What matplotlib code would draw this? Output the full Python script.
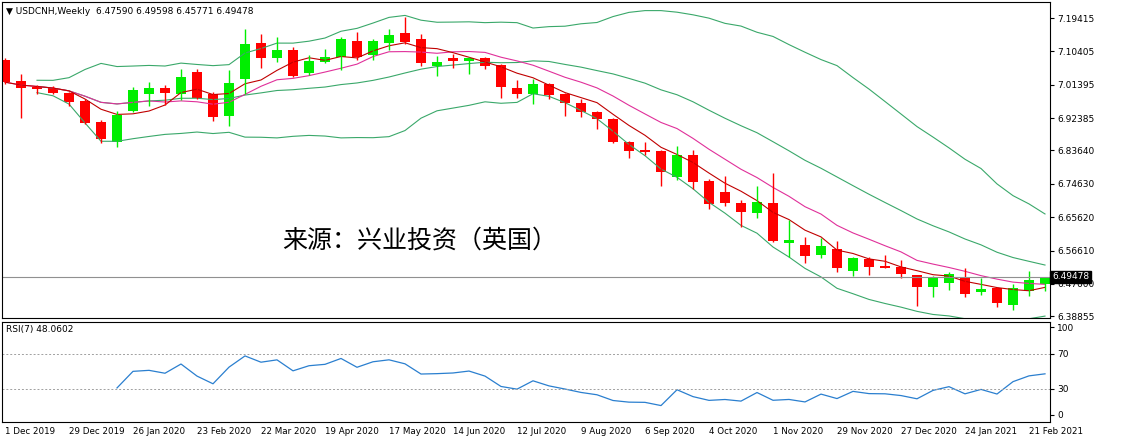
import numpy as np
import pandas as pd
import matplotlib
matplotlib.use("Agg")
import matplotlib.pyplot as plt

plt.rcParams['font.family'] = ['DejaVu Sans', 'Noto Sans CJK SC']

opens = [7.081,7.024,7.008,7.005,6.992,6.970,6.913,6.859,6.943,6.989,7.005,6.989,7.048,6.989,6.930,7.029,7.127,7.086,7.108,7.046,
         7.075,7.089,7.132,7.094,7.127,7.154,7.138,7.065,7.086,7.078,7.086,7.067,7.005,6.989,7.016,6.989,6.965,6.940,6.921,6.859,
         6.838,6.835,6.765,6.824,6.754,6.724,6.695,6.668,6.695,6.587,6.581,6.554,6.570,6.511,6.543,6.525,6.522,6.500,6.468,6.479,
         6.495,6.454,6.465,6.419,6.457,6.47590]
highs = [7.086,7.043,7.013,7.011,6.994,6.975,6.919,6.943,7.008,7.021,7.013,7.056,7.056,6.994,7.054,7.164,7.151,7.143,7.116,7.094,
         7.110,7.143,7.156,7.138,7.164,7.197,7.151,7.092,7.097,7.089,7.089,7.070,7.027,7.029,7.019,6.992,6.975,6.943,6.924,6.862,
         6.859,6.838,6.849,6.838,6.759,6.768,6.703,6.741,6.776,6.649,6.603,6.600,6.592,6.549,6.549,6.554,6.541,6.500,6.498,6.508,
         6.519,6.492,6.468,6.476,6.511,6.49598]
lows = [7.016,6.924,6.989,6.989,6.957,6.908,6.857,6.846,6.940,6.957,6.959,6.973,6.975,6.916,6.903,6.989,7.059,7.075,7.035,7.040,
        7.073,7.054,7.081,7.081,7.108,7.124,7.065,7.038,7.059,7.043,7.056,6.978,6.978,6.962,6.975,6.930,6.927,6.894,6.857,6.816,
        6.824,6.741,6.757,6.732,6.678,6.686,6.630,6.654,6.589,6.549,6.533,6.546,6.508,6.498,6.500,6.519,6.492,6.417,6.441,6.460,
        6.441,6.446,6.414,6.406,6.444,6.45771]
closes = [7.021,7.005,7.002,6.992,6.967,6.911,6.867,6.932,7.000,7.005,6.992,7.035,6.978,6.927,7.019,7.124,7.086,7.108,7.038,7.078,
          7.089,7.138,7.089,7.132,7.148,7.129,7.073,7.075,7.078,7.086,7.065,7.008,6.989,7.016,6.986,6.965,6.940,6.921,6.859,6.835,
          6.832,6.778,6.824,6.751,6.692,6.695,6.670,6.697,6.592,6.595,6.552,6.579,6.519,6.546,6.522,6.520,6.503,6.468,6.492,6.503,
          6.449,6.462,6.425,6.465,6.487,6.49478]
date_labels = ["1 Dec 2019","29 Dec 2019","26 Jan 2020","23 Feb 2020","22 Mar 2020","19 Apr 2020","17 May 2020",
               "14 Jun 2020","12 Jul 2020","9 Aug 2020","6 Sep 2020","4 Oct 2020","1 Nov 2020","29 Nov 2020",
               "27 Dec 2020","24 Jan 2021","21 Feb 2021"]
price_ticks = [7.19415,7.10405,7.01395,6.92385,6.83640,6.74630,6.65620,6.56610,6.47600,6.38855]
rsi_ticks = [100,70,30,0]

n = len(closes)
x = np.arange(n)
c = pd.Series(closes)
ma_fast = c.rolling(5, min_periods=1).mean()
ma_slow = c.rolling(10, min_periods=1).mean()
mid = c.rolling(20, min_periods=3).mean()
sd = c.rolling(20, min_periods=3).std(ddof=0)
up, lo = mid + 2*sd, mid - 2*sd
d = c.diff()
g = d.clip(lower=0).ewm(alpha=1/7, adjust=False).mean()
l = (-d.clip(upper=0)).ewm(alpha=1/7, adjust=False).mean()
rsi = 100 - 100/(1 + g/l)
rsi[:7] = np.nan

W, H = 1137, 446
fig = plt.figure(figsize=(W/100, H/100), dpi=100)
ax = fig.add_axes([2/W, 1-318/H, 1048/W, 316/H])
ax2 = fig.add_axes([2/W, 1-422/H, 1048/W, 100/H])
sp = 16.0
xl = (-(5-2)/sp, (1050-5)/sp)
for a in (ax, ax2):
    a.set_xlim(*xl)
    a.set_xticks([])
    a.yaxis.tick_right()
    a.tick_params(axis='y', labelsize=6.5, length=3, pad=2)
    for s in a.spines.values():
        s.set_linewidth(0.8)

ax.set_ylim(6.384, 7.2374)
ax.set_yticks(price_ticks)
ax.set_yticklabels([f"{t:.5f}" for t in price_ticks])

band = '#3aa86a'
ax.plot(x, up, color=band, lw=0.8)
ax.plot(x, mid, color=band, lw=0.8)
ax.plot(x, lo, color=band, lw=0.8)
ax.plot(x, ma_slow, color='#e0309a', lw=0.8)
ax.plot(x, ma_fast, color='#c00000', lw=0.8)

for i in range(n):
    o, h, lw_, cl = opens[i], highs[i], lows[i], closes[i]
    col = '#00ee00' if cl >= o else '#ff0000'
    ax.vlines(i, lw_, h, color=col, lw=1)
    ax.bar(i, max(abs(cl-o), 0.0012), bottom=min(o, cl), width=0.62, color=col, lw=0)

ax.axhline(closes[-1], color='#909090', lw=0.8)
ax.text(1.002, closes[-1], f"{closes[-1]:.5f}", transform=ax.get_yaxis_transform(), va='center', ha='left',
        fontsize=6.5, color='white', bbox=dict(facecolor='black', edgecolor='black', pad=1.2))
ax.text(0.004, 0.985, "▼ USDCNH,Weekly  6.47590 6.49598 6.45771 6.49478", transform=ax.transAxes,
        fontsize=6.5, va='top', ha='left')
ax.text(280/1048, 0.245, "来源：兴业投资（英国）", transform=ax.transAxes, fontsize=18,
        va='center', ha='left', family=['Noto Sans CJK SC', 'DejaVu Sans'])

ax2.set_ylim(-8, 106)
ax2.set_yticks(rsi_ticks)
ax2.plot(x, rsi, color='#2a7fcf', lw=0.9)
for lv in (70, 30):
    ax2.axhline(lv, color='#a0a0a0', lw=0.7, ls=(0, (2, 2)))
ax2.text(0.004, 0.97, "RSI(7) 48.0602", transform=ax2.transAxes, fontsize=6.5, va='top', ha='left')

for k, lab in enumerate(date_labels):
    fig.text((2 + (4*k - xl[0]) / (xl[1]-xl[0]) * 1048) / W, 1-432/H, lab, fontsize=6.3, ha='left', va='center')

fig.savefig("out.png", dpi=100, facecolor='white')
